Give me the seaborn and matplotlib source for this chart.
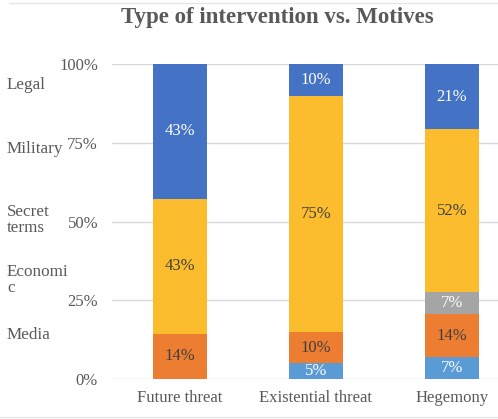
import matplotlib
matplotlib.use("Agg")
import matplotlib.pyplot as plt
from matplotlib.lines import Line2D
import seaborn as sns
import pandas as pd
import numpy as np

categories = ["Future threat", "Existential threat", "Hegemony"]
series_names = ["Media", "Economic", "Secret terms", "Military", "Legal"]
media = [0.0, 5.0, 6.9]
economic = [14.3, 10.0, 13.8]
secret_terms = [0.0, 0.0, 6.9]
military = [42.9, 75.0, 51.7]
legal = [42.9, 10.0, 20.7]
labels = [["", "5%", "7%"], ["14%", "10%", "14%"], ["", "", "7%"],
          ["43%", "75%", "52%"], ["43%", "10%", "21%"]]
colors = ["#5B9BD5", "#ED7D31", "#A5A5A5", "#FBBC2D", "#4472C4"]
text_colors = ["white", "#404040", "white", "#404040", "white"]
side_labels = ["Legal", "Military", "Secret\nterms", "Economi\nc", "Media"]
side_y = [93.3, 73.0, 50.6, 31.4, 14.0]
yticks = [0, 25, 50, 75, 100]
ytick_labels = ["0%", "25%", "50%", "75%", "100%"]

sns.set_theme(style="white")
plt.rcParams["font.family"] = ["Liberation Serif", "DejaVu Serif"]

layers = [media, economic, secret_terms, military, legal]
cum = np.cumsum(np.array(layers), axis=0)

W, H = 4.98, 4.19
fig = plt.figure(figsize=(W, H), dpi=100)
ax = fig.add_axes([112 / 498, 1 - 379 / 419, 1 - 112 / 498, (379 - 64) / 419])

for k in range(len(layers) - 1, -1, -1):
    df = pd.DataFrame({"cat": categories, "val": cum[k]})
    sns.barplot(data=df, x="cat", y="val", color=colors[k], width=0.4,
                saturation=1, ax=ax, zorder=2, linewidth=0, order=categories)

for k in range(len(layers)):
    for i in range(len(categories)):
        if layers[k][i] > 0 and labels[k][i]:
            center = cum[k][i] - layers[k][i] / 2
            ax.text(i, center, labels[k][i], ha="center", va="center",
                    color=text_colors[k], fontsize=12, zorder=3)

ax.set_xlim(-0.5, 2.34)
ax.set_ylim(0, 100)
ax.set_yticks(yticks)
ax.set_yticklabels(ytick_labels)
ax.yaxis.grid(True, color="#D9D9D9", linewidth=1, zorder=0)
ax.set_axisbelow(True)
for s in ax.spines.values():
    s.set_visible(False)
ax.set_xlabel("")
ax.set_ylabel("")
ax.tick_params(axis="y", length=0, pad=10, labelsize=12, labelcolor="#595959")
ax.tick_params(axis="x", length=0, pad=8, labelsize=12, labelcolor="#595959")

for lab, yv in zip(side_labels, side_y):
    yfig = ax.transData.transform((0, yv))[1] / (fig.dpi * H)
    fig.text(7 / 498, yfig, lab, ha="left", va="center", fontsize=12.3,
             color="#595959", linespacing=1.0)

fig.text(277 / 498, 1 - 18 / 419, "Type of intervention vs. Motives",
         ha="center", va="center", fontsize=16.5, fontweight="bold",
         color="#595959")

fig.add_artist(Line2D([9 / 498, 1], [1 - 2.7 / 419, 1 - 2.7 / 419],
                      transform=fig.transFigure, color="#E6E6E6", linewidth=1))
fig.add_artist(Line2D([0, 1], [1 - 416.5 / 419, 1 - 416.5 / 419],
                      transform=fig.transFigure, color="#E6E6E6", linewidth=1))

fig.savefig("out.png", dpi=100)
